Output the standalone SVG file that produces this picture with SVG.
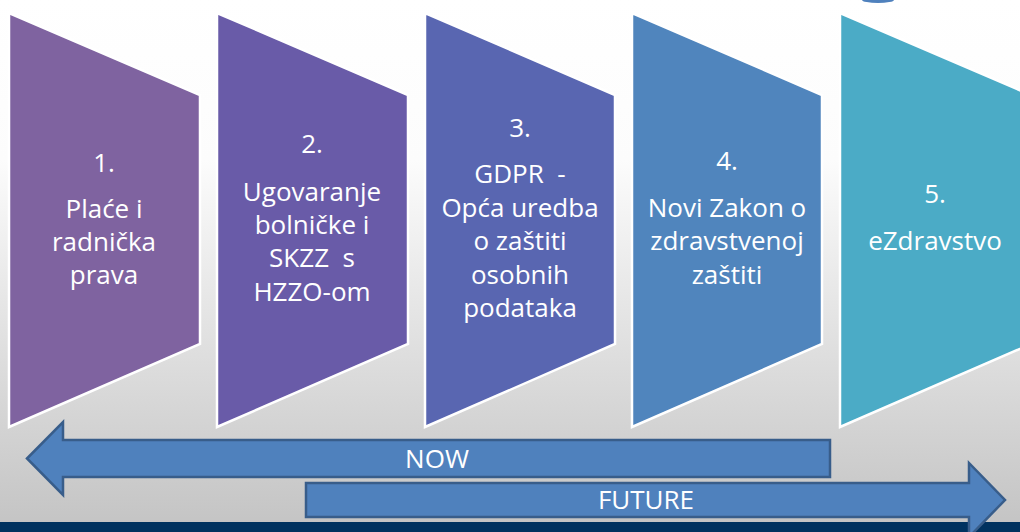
<svg xmlns="http://www.w3.org/2000/svg" width="1020" height="532" viewBox="0 0 1020 532">
  <defs>
    <linearGradient id="bg" x1="0" y1="0" x2="0" y2="1">
      <stop offset="0" stop-color="#FFFFFF"/>
      <stop offset="0.3" stop-color="#FCFCFC"/>
      <stop offset="1" stop-color="#C3C3C3"/>
    </linearGradient>
  </defs>
  <style>
    .chev { stroke: #FFFFFF; stroke-width: 2.5; stroke-linejoin: miter; }
    .t { font-family: "Open Sans", "Liberation Sans", sans-serif; font-size: 26px; fill: #FFFFFF; text-anchor: middle; }
    .arrow { fill: #4F81BD; stroke: #385D8A; stroke-width: 2.5; stroke-linejoin: miter; }
    .at { font-family: "Open Sans", "Liberation Sans", sans-serif; font-size: 26px; fill: #FFFFFF; text-anchor: middle; }
  </style>
  <rect x="0" y="0" width="1020" height="532" fill="url(#bg)"/>
  <path d="M862,0 A16,3 0 0 0 894,0 Z" fill="#4F81BD"/>
  <rect x="0" y="522" width="1020" height="10" fill="#00325F"/>

  <g id="node1">
    <polygon class="chev" points="9,13 200,95 200,344 9,427" fill="#7F63A0"/>
    <text class="t" x="104" y="172">1.</text>
    <text class="t" x="104" y="218">Plaće i</text>
    <text class="t" x="104" y="251">radnička</text>
    <text class="t" x="104" y="284">prava</text>
  </g>
  <g id="node2">
    <polygon class="chev" points="217,13 408,95 408,344 217,427" fill="#695BA8"/>
    <text class="t" x="312" y="153">2.</text>
    <text class="t" x="312" y="201">Ugovaranje</text>
    <text class="t" x="312" y="234">bolničke i</text>
    <text class="t" x="312" y="267" xml:space="preserve">SKZZ  s</text>
    <text class="t" x="312" y="301">HZZO-om</text>
  </g>
  <g id="node3">
    <polygon class="chev" points="425,13 615,95 615,344 425,427" fill="#5966B1"/>
    <text class="t" x="520" y="137">3.</text>
    <text class="t" x="520" y="183" xml:space="preserve">GDPR  -</text>
    <text class="t" x="520" y="217">Opća uredba</text>
    <text class="t" x="520" y="250">o zaštiti</text>
    <text class="t" x="520" y="284">osobnih</text>
    <text class="t" x="520" y="317">podataka</text>
  </g>
  <g id="node4">
    <polygon class="chev" points="632,13 822,95 822,344 632,427" fill="#5085BD"/>
    <text class="t" x="727" y="170">4.</text>
    <text class="t" x="727" y="217">Novi Zakon o</text>
    <text class="t" x="727" y="250">zdravstvenoj</text>
    <text class="t" x="727" y="284">zaštiti</text>
  </g>
  <g id="node5">
    <polygon class="chev" points="840,13 1031,95 1031,344 840,427" fill="#4BABC6"/>
    <text class="t" x="935" y="203">5.</text>
    <text class="t" x="935" y="250">eZdravstvo</text>
  </g>

  <g id="connectors">
    <g id="now">
      <polygon class="arrow" points="27,458.5 63,422 63,440 830,440 830,477 63,477 63,495"/>
      <text class="at" x="437" y="468">NOW</text>
    </g>
    <g id="future">
      <polygon class="arrow" points="306,483 969,483 969,463 1005,500 969,537 969,517 306,517"/>
      <text class="at" x="646" y="509">FUTURE</text>
    </g>
  </g>
</svg>
